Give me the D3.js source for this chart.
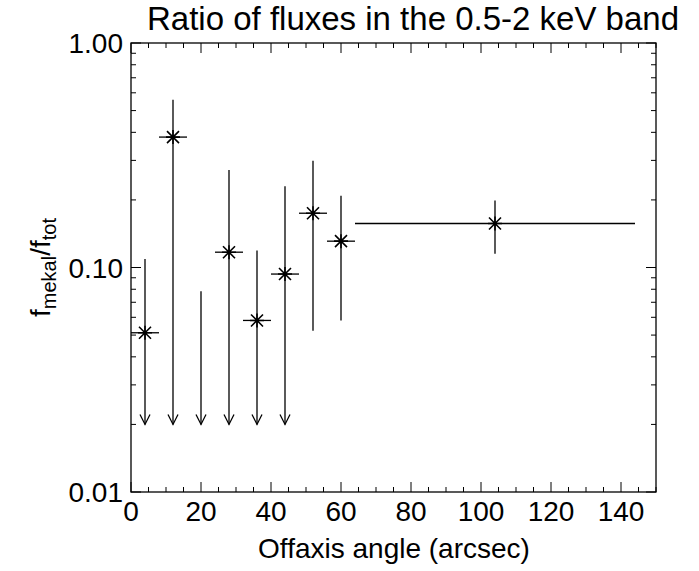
<!DOCTYPE html>
<html lang="en">
<head>
<meta charset="utf-8">
<title>Ratio of fluxes</title>
<script src="https://d3js.org/d3.v7.min.js"></script>
<style>
  body { margin: 0; background: #fff; }
  text { font-family: "Liberation Sans", Arial, sans-serif; fill: #000; }
</style>
</head>
<body>
<div id="chart"></div>
<script>
// bin centres (arcsec) and half widths
var xVals   = [4, 12, 20, 28, 36, 44, 52, 60, 104];
var xHalf   = [4, 4, 4, 4, 4, 4, 4, 4, 40];
// measured ratio (null = upper limit only)
var yVals   = [0.0512, 0.381, null, 0.117, 0.0581, 0.0935, 0.1745, 0.131, 0.157];
var yUpper  = [0.109, 0.559, 0.0783, 0.272, 0.119, 0.230, 0.299, 0.209, 0.199];
var yLower  = [null, null, null, null, null, null, 0.0523, 0.0581, 0.115];
// upper-limit arrows go down to this value
var arrowTo = 0.02;

var xTicks = [0, 20, 40, 60, 80, 100, 120, 140];
var yTicks = [0.01, 0.1, 1];
var yTickLabels = ["0.01", "0.10", "1.00"];

var margin = {top: 43, right: 43, bottom: 79, left: 131}
  , width = 699 - margin.left - margin.right
  , height = 571 - margin.top - margin.bottom;

var xScale = d3.scaleLinear().domain([0, 150]).range([0, width]);
var yScale = d3.scaleLog().domain([0.01, 1]).range([height, 0]);

var svg = d3.select("#chart").append("svg")
    .attr("width", 699)
    .attr("height", 571);

var g = svg.append("g")
    .attr("transform", "translate(" + margin.left + "," + margin.top + ")");

// minor ticks
var xMinor = d3.range(0, 151, 5).filter(function(d) { return d % 20 !== 0; });
var yMinor = [];
[0.01, 0.1].forEach(function(b) { for (var k = 2; k <= 9; k++) yMinor.push(b * k); });

function axisLines(sel, scale, ticks, len, orient) {
  sel.selectAll(null).data(ticks).enter().append("line")
    .attr("stroke", "#000").attr("stroke-width", 1)
    .attr("x1", function(d) { return orient === "b" || orient === "t" ? scale(d) : (orient === "l" ? 0 : width); })
    .attr("x2", function(d) { return orient === "b" || orient === "t" ? scale(d) : (orient === "l" ? len : width - len); })
    .attr("y1", function(d) { return orient === "l" || orient === "r" ? scale(d) : (orient === "b" ? height : 0); })
    .attr("y2", function(d) { return orient === "l" || orient === "r" ? scale(d) : (orient === "b" ? height - len : len); });
}

var ax = g.append("g").attr("class", "axes");
axisLines(ax, xScale, xTicks, 10, "b");
axisLines(ax, xScale, xMinor, 5, "b");
axisLines(ax, xScale, xTicks, 10, "t");
axisLines(ax, xScale, xMinor, 5, "t");
axisLines(ax, yScale, yTicks, 10, "l");
axisLines(ax, yScale, yMinor, 5, "l");
axisLines(ax, yScale, yTicks, 10, "r");
axisLines(ax, yScale, yMinor, 5, "r");

ax.append("rect")
    .attr("width", width).attr("height", height)
    .attr("fill", "none").attr("stroke", "#000").attr("stroke-width", 1.3);

// tick labels
g.selectAll(".xlab").data(xTicks).enter().append("text")
    .attr("class", "xlab")
    .attr("x", function(d) { return xScale(d); })
    .attr("y", height + 29)
    .attr("text-anchor", "middle")
    .style("font-size", "28px")
    .text(function(d) { return d; });

g.selectAll(".ylab").data(yTicks).enter().append("text")
    .attr("class", "ylab")
    .attr("x", -8)
    .attr("y", function(d) { return yScale(d) + 10; })
    .attr("text-anchor", "end")
    .style("font-size", "28px")
    .text(function(d, i) { return yTickLabels[i]; });

// titles
svg.append("text")
    .attr("x", 413).attr("y", 30)
    .attr("text-anchor", "middle")
    .style("font-size", "33px")
    .text("Ratio of fluxes in the 0.5-2 keV band");

svg.append("text")
    .attr("x", 394).attr("y", 558)
    .attr("text-anchor", "middle")
    .style("font-size", "28px")
    .text("Offaxis angle (arcsec)");

var yl = svg.append("text")
    .attr("transform", "translate(50," + (margin.top + height / 2) + ") rotate(-90)")
    .attr("text-anchor", "middle")
    .style("font-size", "28px");
yl.append("tspan").text("f");
yl.append("tspan").attr("dy", 6).style("font-size", "20px").text("mekal");
yl.append("tspan").attr("dy", -6).text("/f");
yl.append("tspan").attr("dy", 6).style("font-size", "20px").text("tot");

// data
var data = xVals.map(function(x, i) {
  return {x: x, hw: xHalf[i], y: yVals[i], up: yUpper[i], lo: yLower[i]};
});

var pts = g.append("g").attr("stroke", "#000").attr("stroke-width", 1.3).attr("fill", "none");

// horizontal bars
pts.selectAll(".hbar").data(data.filter(function(d) { return d.y !== null; })).enter().append("line")
    .attr("x1", function(d) { return xScale(d.x - d.hw); })
    .attr("x2", function(d) { return xScale(d.x + d.hw); })
    .attr("y1", function(d) { return yScale(d.y); })
    .attr("y2", function(d) { return yScale(d.y); });

// vertical bars
pts.selectAll(".vbar").data(data).enter().append("line")
    .attr("x1", function(d) { return xScale(d.x); })
    .attr("x2", function(d) { return xScale(d.x); })
    .attr("y1", function(d) { return yScale(d.up); })
    .attr("y2", function(d) { return yScale(d.lo === null ? arrowTo : d.lo); });

// arrow heads for upper limits
pts.selectAll(".arrow").data(data.filter(function(d) { return d.lo === null; })).enter().append("path")
    .attr("d", function(d) {
      var x = xScale(d.x), y = yScale(arrowTo);
      return "M" + (x - 5) + "," + (y - 10) + "L" + x + "," + y + "L" + (x + 5) + "," + (y - 10);
    });

// asterisk symbols
pts.selectAll(".star").data(data.filter(function(d) { return d.y !== null; })).enter().append("path")
    .attr("stroke-width", 1.6)
    .attr("d", function(d) {
      var x = xScale(d.x), y = yScale(d.y), s = 6;
      return "M" + (x - s) + "," + (y - s) + "L" + (x + s) + "," + (y + s) +
             "M" + (x - s) + "," + (y + s) + "L" + (x + s) + "," + (y - s) +
             "M" + x + "," + (y - s - 1) + "L" + x + "," + (y + s + 1) +
             "M" + (x - s - 1) + "," + y + "L" + (x + s + 1) + "," + y;
    });
</script>
</body>
</html>
